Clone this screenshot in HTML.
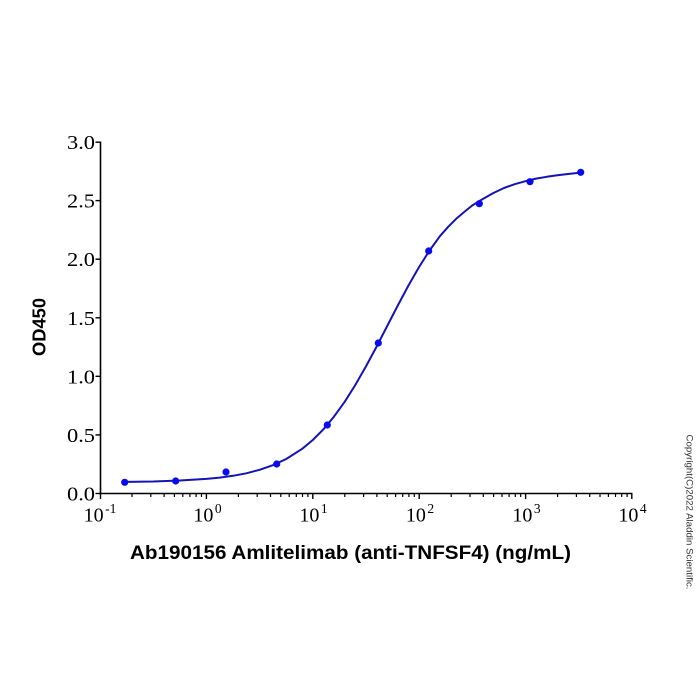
<!DOCTYPE html>
<html>
<head>
<meta charset="utf-8">
<style>
  html, body { margin:0; padding:0; background:#ffffff; }
  svg { display:block; }
</style>
</head>
<body>
<svg width="700" height="700" viewBox="0 0 700 700" xmlns="http://www.w3.org/2000/svg">
  <rect width="700" height="700" fill="#ffffff"/>

  <!-- axes -->
  <g stroke="#000" stroke-width="1.6" fill="none">
    <line x1="100.5" y1="141.5" x2="100.5" y2="494.3"/>
    <line x1="99.7" y1="493.5" x2="632.5" y2="493.5"/>
  </g>

  <!-- y ticks -->
  <g stroke="#000" stroke-width="1.4">
    <line x1="95.5" y1="493.5" x2="100.5" y2="493.5"/>
    <line x1="95.5" y1="434.9" x2="100.5" y2="434.9"/>
    <line x1="95.5" y1="376.3" x2="100.5" y2="376.3"/>
    <line x1="95.5" y1="317.8" x2="100.5" y2="317.8"/>
    <line x1="95.5" y1="259.2" x2="100.5" y2="259.2"/>
    <line x1="95.5" y1="200.6" x2="100.5" y2="200.6"/>
    <line x1="95.5" y1="142.2" x2="100.5" y2="142.2"/>
  </g>

  <!-- x major ticks -->
  <g stroke="#000" stroke-width="1.4">
    <line x1="100.5" y1="493.5" x2="100.5" y2="499"/>
    <line x1="206.4" y1="493.5" x2="206.4" y2="499"/>
    <line x1="312.8" y1="493.5" x2="312.8" y2="499"/>
    <line x1="419.2" y1="493.5" x2="419.2" y2="499"/>
    <line x1="525.6" y1="493.5" x2="525.6" y2="499"/>
    <line x1="631.8" y1="493.5" x2="631.8" y2="499"/>
  </g>
  <!-- x minor ticks -->
  <path stroke="#000" stroke-width="1.2" fill="none" d="
    M132.0 493.5v3.5 M150.8 493.5v3.5 M164.1 493.5v3.5 M174.4 493.5v3.5 M182.8 493.5v3.5 M189.9 493.5v3.5 M196.1 493.5v3.5 M201.5 493.5v3.5
    M238.4 493.5v3.5 M257.2 493.5v3.5 M270.5 493.5v3.5 M280.8 493.5v3.5 M289.2 493.5v3.5 M296.3 493.5v3.5 M302.5 493.5v3.5 M307.9 493.5v3.5
    M344.8 493.5v3.5 M363.6 493.5v3.5 M376.9 493.5v3.5 M387.2 493.5v3.5 M395.6 493.5v3.5 M402.7 493.5v3.5 M408.9 493.5v3.5 M414.3 493.5v3.5
    M451.2 493.5v3.5 M470.0 493.5v3.5 M483.3 493.5v3.5 M493.6 493.5v3.5 M502.0 493.5v3.5 M509.1 493.5v3.5 M515.3 493.5v3.5 M520.7 493.5v3.5
    M557.6 493.5v3.5 M576.4 493.5v3.5 M589.7 493.5v3.5 M600.0 493.5v3.5 M608.4 493.5v3.5 M615.5 493.5v3.5 M621.7 493.5v3.5 M627.1 493.5v3.5"/>

  <!-- y tick labels -->
  <g font-family="'Liberation Serif', serif" font-size="20" fill="#000" text-anchor="end">
    <text x="95" y="500.5" textLength="28" lengthAdjust="spacingAndGlyphs">0.0</text>
    <text x="95" y="441.9" textLength="28" lengthAdjust="spacingAndGlyphs">0.5</text>
    <text x="95" y="383.3" textLength="28" lengthAdjust="spacingAndGlyphs">1.0</text>
    <text x="95" y="324.8" textLength="28" lengthAdjust="spacingAndGlyphs">1.5</text>
    <text x="95" y="266.2" textLength="28" lengthAdjust="spacingAndGlyphs">2.0</text>
    <text x="95" y="207.6" textLength="28" lengthAdjust="spacingAndGlyphs">2.5</text>
    <text x="95" y="149.2" textLength="28" lengthAdjust="spacingAndGlyphs">3.0</text>
  </g>

  <!-- x tick labels -->
  <g font-family="'Liberation Serif', serif" font-size="20" fill="#000" text-anchor="middle">
    <text x="100" y="521.7">10<tspan dx="1.5" dy="-8.5" font-size="13.5">-1</tspan></text>
    <text x="207.5" y="521.7">10<tspan dx="1.5" dy="-8.5" font-size="13.5">0</tspan></text>
    <text x="313.5" y="521.7">10<tspan dx="1.5" dy="-8.5" font-size="13.5">1</tspan></text>
    <text x="420" y="521.7">10<tspan dx="1.5" dy="-8.5" font-size="13.5">2</tspan></text>
    <text x="526.5" y="521.7">10<tspan dx="1.5" dy="-8.5" font-size="13.5">3</tspan></text>
    <text x="632.5" y="521.7">10<tspan dx="1.5" dy="-8.5" font-size="13.5">4</tspan></text>
  </g>

  <!-- axis titles -->
  <text x="350.5" y="559" font-family="'Liberation Sans', Arial, sans-serif" font-weight="bold" font-size="19.5" text-anchor="middle" textLength="441" lengthAdjust="spacingAndGlyphs" fill="#000">Ab190156 Amlitelimab (anti-TNFSF4) (ng/mL)</text>
  <text transform="translate(45.5,327) rotate(-90)" x="0" y="0" font-family="'Liberation Sans', Arial, sans-serif" font-weight="bold" font-size="18.7" text-anchor="middle" textLength="58" lengthAdjust="spacingAndGlyphs" fill="#000">OD450</text>

  <!-- fitted curve -->
  <polyline fill="none" stroke="#1414b4" stroke-width="2" stroke-linejoin="round" stroke-linecap="round"
    points="124.7,481.9 153.2,481.5 179.8,480.5 206.4,478.9 219.7,477.6 233.0,475.8 246.3,473.3 259.6,469.8 272.9,465.2 286.2,459.0 302.2,448.8 312.8,440.0 323.4,429.3 334.0,416.6 344.7,401.8 355.3,385.0 365.9,366.5 376.6,346.6 387.2,326.0 397.8,305.5 408.4,285.6 419.0,267.1 429.6,250.4 440.2,235.8 448.2,226.8 456.2,218.8 464.2,212 472.2,205.5 482.8,199 493.4,193 504,188 514.7,184.2 525.4,181.2 536.0,178.6 546.7,176.8 557.3,175.3 568,174 580.5,172.6"/>

  <!-- data points -->
  <g fill="#0a0aee">
    <circle cx="124.7" cy="482.3" r="3.6"/>
    <circle cx="175.7" cy="481" r="3.6"/>
    <circle cx="226" cy="472" r="3.6"/>
    <circle cx="276.7" cy="464" r="3.6"/>
    <circle cx="327.3" cy="425" r="3.6"/>
    <circle cx="378.3" cy="343" r="3.6"/>
    <circle cx="428.7" cy="251" r="3.6"/>
    <circle cx="479.3" cy="203.7" r="3.6"/>
    <circle cx="530" cy="181.7" r="3.6"/>
    <circle cx="580.7" cy="172.3" r="3.6"/>
  </g>

  <!-- copyright -->
  <text transform="translate(686.5,512) rotate(90)" x="0" y="0" font-family="'Liberation Sans', Arial, sans-serif" font-size="9" text-anchor="middle" textLength="155" lengthAdjust="spacingAndGlyphs" fill="#333">Copyright(C)2022 Aladdin Scientific.</text>
</svg>
</body>
</html>
